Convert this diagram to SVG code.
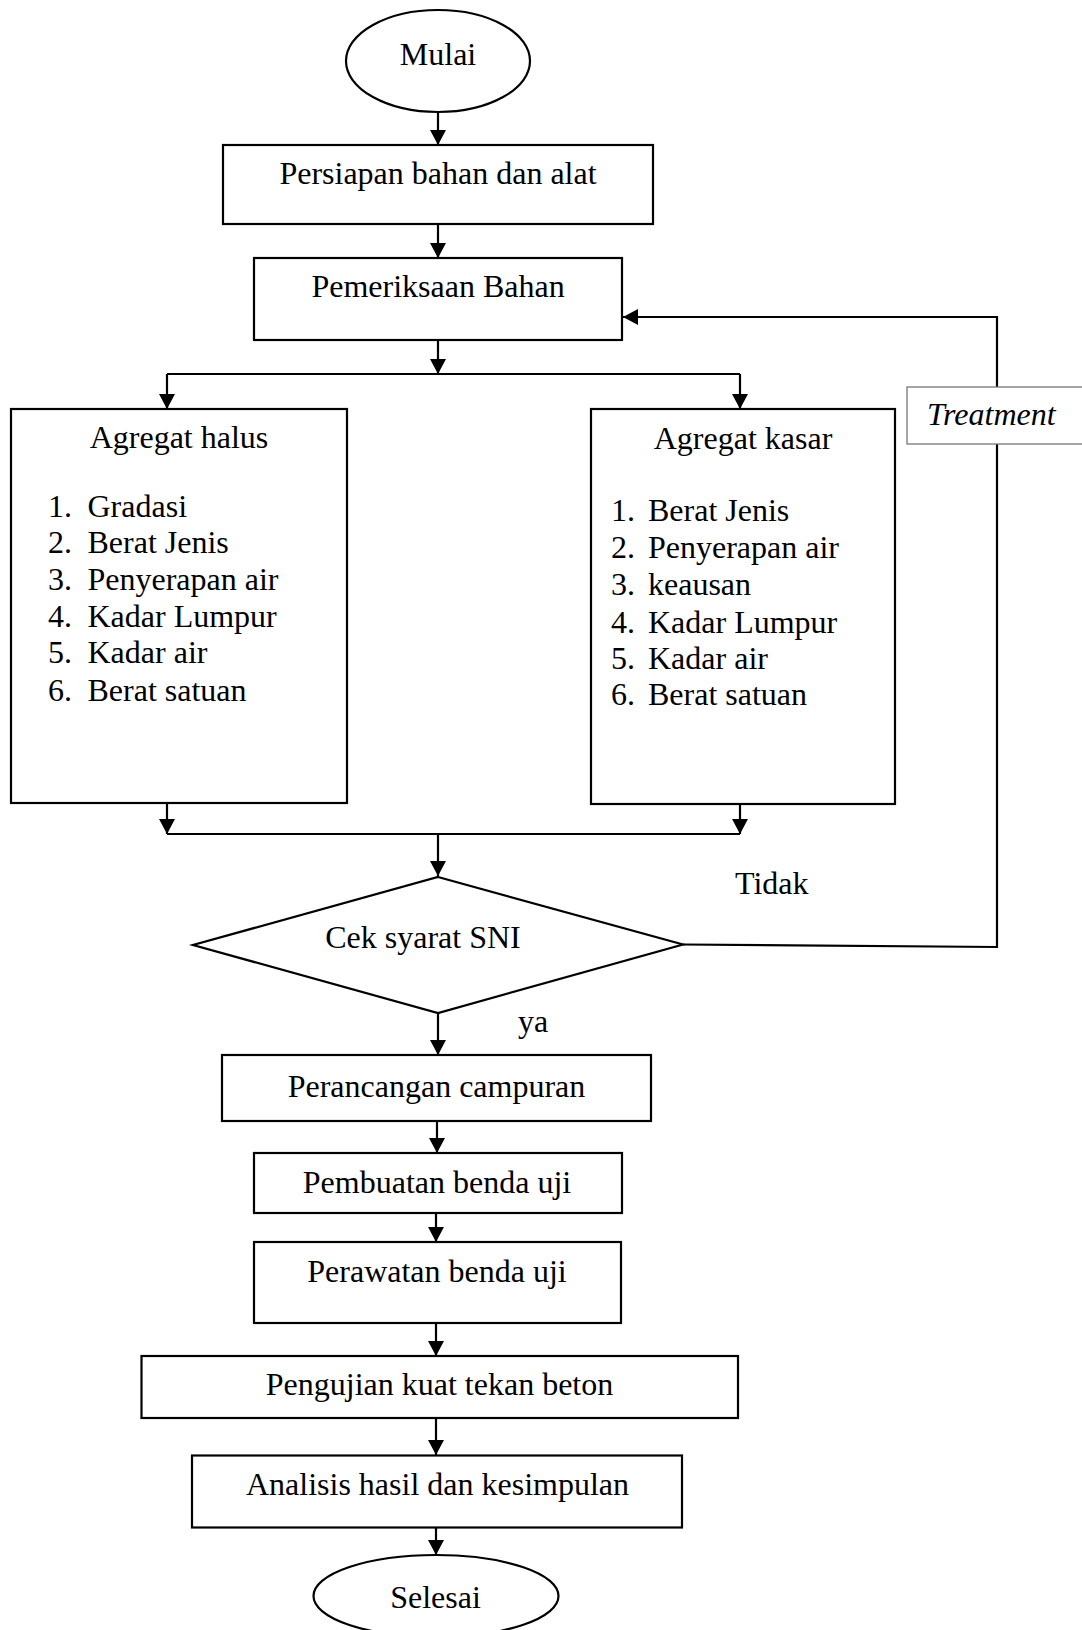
<svg xmlns="http://www.w3.org/2000/svg" width="1082" height="1630" viewBox="0 0 1082 1630">
<style>
  .shape { fill: #fff; stroke: #000; stroke-width: 2.2; }
  .thin { fill: #fff; stroke: #777; stroke-width: 1.3; }
  .conn { fill: none; stroke: #000; stroke-width: 2.2; }
  .arr { marker-end: url(#ah); }
  text { font-family: "Liberation Serif", "Times New Roman", serif; font-size: 32px; fill: #000; }
  .c { text-anchor: middle; }
  .it { font-style: italic; }
</style>
<defs>
  <marker id="ah" markerUnits="userSpaceOnUse" markerWidth="15" markerHeight="16" refX="15" refY="8" orient="auto">
    <path d="M0,0 L15,8 L0,16 z" fill="#000"/>
  </marker>
</defs>
<rect width="1082" height="1630" fill="#fff"/>

<g id="connectors">
  <path class="conn arr" d="M438,112 L438,145"/>
  <path class="conn arr" d="M438,224 L438,258"/>
  <path class="conn arr" d="M438,340 L438,374"/>
  <path class="conn" d="M167,374 L740,374"/>
  <path class="conn arr" d="M167,374 L167,409"/>
  <path class="conn arr" d="M740,374 L740,409"/>
  <path class="conn arr" d="M167,803 L167,834"/>
  <path class="conn arr" d="M740,804 L740,834"/>
  <path class="conn" d="M167,834 L740,834"/>
  <path class="conn arr" d="M438,834 L438,876"/>
  <path class="conn arr" d="M683,944.5 L997,947 L997,317 L623,317"/>
  <path class="conn arr" d="M438,1013 L438,1055"/>
  <path class="conn arr" d="M437,1121 L437,1153"/>
  <path class="conn arr" d="M436,1213 L436,1242"/>
  <path class="conn arr" d="M436,1323 L436,1356"/>
  <path class="conn arr" d="M436,1418 L436,1455"/>
  <path class="conn arr" d="M436,1527 L436,1555"/>
</g>

<g id="mulai">
  <ellipse class="shape" cx="438" cy="61" rx="92" ry="51"/>
  <text class="c" x="438" y="65">Mulai</text>
</g>

<g id="persiapan">
  <rect class="shape" x="223" y="145" width="430" height="79"/>
  <text class="c" x="438" y="184">Persiapan bahan dan alat</text>
</g>

<g id="pemeriksaan">
  <rect class="shape" x="254" y="258" width="368" height="82"/>
  <text class="c" x="438" y="297">Pemeriksaan Bahan</text>
</g>

<g id="agregat-halus">
  <rect class="shape" x="11" y="409" width="336" height="394"/>
  <text class="c" x="179" y="448">Agregat halus</text>
  <text x="48" y="517">1.</text><text x="87.5" y="517">Gradasi</text>
  <text x="48" y="553">2.</text><text x="87.5" y="553">Berat Jenis</text>
  <text x="48" y="590">3.</text><text x="87.5" y="590">Penyerapan air</text>
  <text x="48" y="627">4.</text><text x="87.5" y="627">Kadar Lumpur</text>
  <text x="48" y="663">5.</text><text x="87.5" y="663">Kadar air</text>
  <text x="48" y="701">6.</text><text x="87.5" y="701">Berat satuan</text>
</g>

<g id="agregat-kasar">
  <rect class="shape" x="591" y="409" width="304" height="395"/>
  <text class="c" x="743" y="449">Agregat kasar</text>
  <text x="611" y="521">1.</text><text x="648" y="521">Berat Jenis</text>
  <text x="611" y="558">2.</text><text x="648" y="558">Penyerapan air</text>
  <text x="611" y="595">3.</text><text x="648" y="595">keausan</text>
  <text x="611" y="633">4.</text><text x="648" y="633">Kadar Lumpur</text>
  <text x="611" y="669">5.</text><text x="648" y="669">Kadar air</text>
  <text x="611" y="705">6.</text><text x="648" y="705">Berat satuan</text>
</g>

<g id="treatment">
  <rect class="thin" x="907" y="387" width="185" height="57"/>
  <text class="it" x="927" y="425">Treatment</text>
</g>

<g id="cek-sni">
  <polygon class="shape" points="438,877 683,944.5 438,1013 193,945"/>
  <text class="c" x="423" y="948">Cek syarat SNI</text>
</g>

<g id="labels">
  <text x="735" y="894">Tidak</text>
  <text x="518" y="1032">ya</text>
</g>

<g id="perancangan">
  <rect class="shape" x="222" y="1055" width="429" height="66"/>
  <text class="c" x="436.5" y="1097">Perancangan campuran</text>
</g>

<g id="pembuatan">
  <rect class="shape" x="254" y="1153" width="368" height="60"/>
  <text class="c" x="437" y="1193">Pembuatan benda uji</text>
</g>

<g id="perawatan">
  <rect class="shape" x="254" y="1242" width="367" height="81"/>
  <text class="c" x="437" y="1282">Perawatan benda uji</text>
</g>

<g id="pengujian">
  <rect class="shape" x="141.5" y="1356" width="596.5" height="62"/>
  <text class="c" x="439.5" y="1395">Pengujian kuat tekan beton</text>
</g>

<g id="analisis">
  <rect class="shape" x="192" y="1455.5" width="490" height="72"/>
  <text class="c" x="437.5" y="1495">Analisis hasil dan kesimpulan</text>
</g>

<g id="selesai">
  <ellipse class="shape" cx="436" cy="1596" rx="122.5" ry="41"/>
  <text class="c" x="435.5" y="1608">Selesai</text>
</g>
</svg>
